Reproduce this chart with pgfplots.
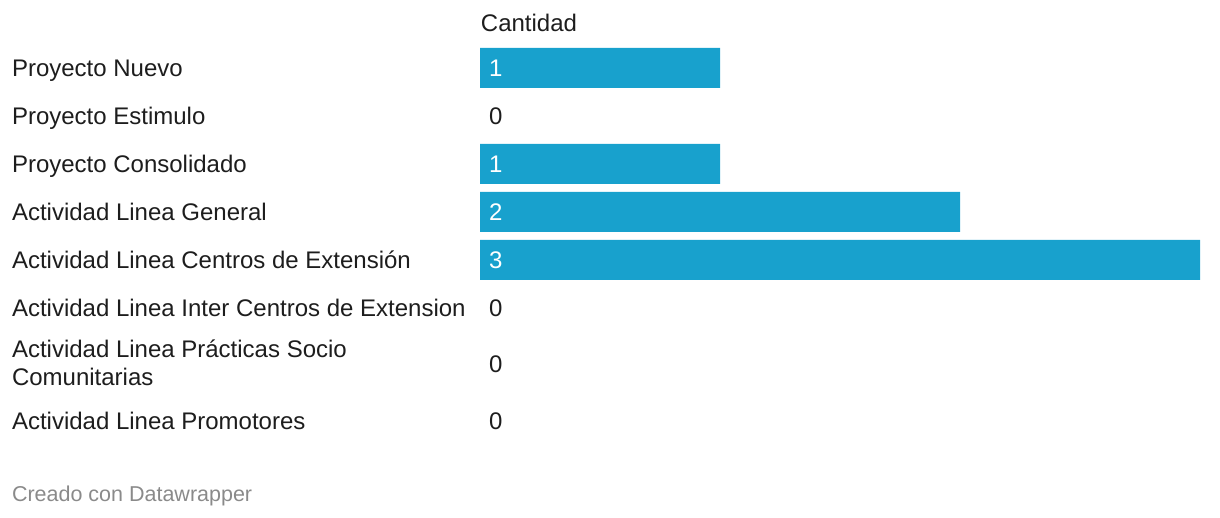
\documentclass[border=0pt]{standalone}
\usepackage{fontspec}
\setmainfont{Liberation Sans}
\usepackage{pgfplots}
\pgfplotsset{compat=1.18}
\definecolor{barblue}{HTML}{18A1CD}
\definecolor{txt}{HTML}{1D1D1D}
\definecolor{foot}{HTML}{8A8A8A}
\begin{document}
\begin{tikzpicture}[every node/.style={inner sep=0pt, outer sep=0pt, font=\fontsize{12}{14}\selectfont, text=txt}]
\begin{axis}[
  width=610pt, height=259pt, scale only axis,
  xmin=-2, xmax=3.083333, ymin=-518, ymax=0,
  hide axis, clip=false,
  unbounded coords=discard,
]
\coordinate (SW) at (rel axis cs:0,0);
\coordinate (NE) at (rel axis cs:1,1);
% bars (zero values are not drawn)
\addplot[xbar, bar width=20pt, bar shift=0pt, fill=barblue, draw=none,
  x filter/.expression={x==0 ? nan : x}]
  coordinates {(1,-68) (0,-116) (1,-164) (2,-212) (3,-260) (0,-308) (0,-364) (0,-421)};
% value labels inside bars (white)
\addplot[draw=none, mark=none, point meta=explicit symbolic, nodes near coords,
  nodes near coords style={anchor=west, text=white, inner sep=0pt, font=\fontsize{12}{14}\selectfont}]
  coordinates {(0.0375,-68)[1] (0.0375,-164)[1] (0.0375,-212)[2] (0.0375,-260)[3]};
% value labels for zero values
\addplot[draw=none, mark=none, point meta=explicit symbolic, nodes near coords,
  nodes near coords style={anchor=west, text=txt, inner sep=0pt, font=\fontsize{12}{14}\selectfont}]
  coordinates {(0.0375,-116)[0] (0.0375,-308)[0] (0.0375,-364)[0] (0.0375,-421)[0]};
% header
\node[anchor=base west] at (axis cs:0.004,-32) {Cantidad};
% category labels
\node[anchor=base west] at (axis cs:-1.95,-76.5) {Proyecto Nuevo};
\node[anchor=base west] at (axis cs:-1.95,-124.5) {Proyecto Estimulo};
\node[anchor=base west] at (axis cs:-1.95,-172.5) {Proyecto Consolidado};
\node[anchor=base west] at (axis cs:-1.95,-220.5) {Actividad Linea General};
\node[anchor=base west] at (axis cs:-1.95,-268.5) {Actividad Linea Centros de Extensión};
\node[anchor=base west] at (axis cs:-1.95,-316.5) {Actividad Linea Inter Centros de Extension};
\node[anchor=base west] at (axis cs:-1.95,-358) {Actividad Linea Prácticas Socio};
\node[anchor=base west] at (axis cs:-1.95,-386) {Comunitarias};
\node[anchor=base west] at (axis cs:-1.95,-429.5) {Actividad Linea Promotores};
% footer
\node[anchor=base west, text=foot, font=\fontsize{10.75}{13}\selectfont] at (axis cs:-1.95,-502) {Creado con Datawrapper};
\end{axis}
\pgfresetboundingbox
\path (SW) rectangle (NE);
\end{tikzpicture}
\end{document}
